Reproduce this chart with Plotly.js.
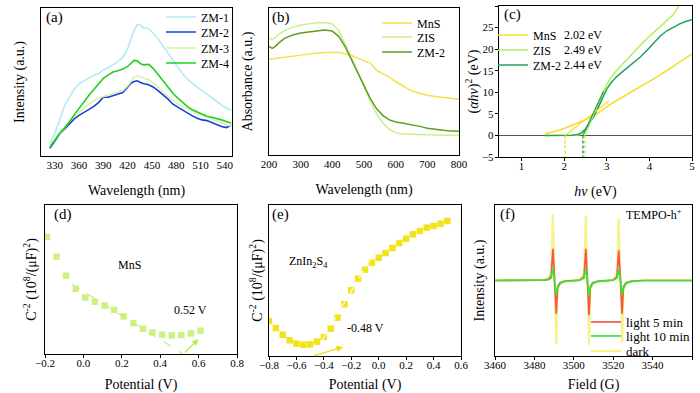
<!DOCTYPE html>
<html><head><meta charset="utf-8">
<script src="https://cdn.plot.ly/plotly-3.0.1.min.js"></script>
<style>html,body{margin:0;padding:0;background:#fff;}#chart{width:700px;height:393px;}</style>
</head><body><div id="chart"></div>
<script>
// ---------- (a) PL spectra ----------
const plWavelength = [324,330,336,342,348,354,360,366,372,378,384,390,396,402,408,414,420,424,428,432,436,440,446,452,458,464,470,476,482,488,494,500,506,512,518,524,530,536,542,548];
const plZM1 = [8.6,15.3,23.9,33.9,39.7,45.1,48.8,50.8,52.6,54.6,55.5,58.2,59.6,61.4,63.7,66.8,72.2,79.0,84.9,88.7,88.3,86.5,86.2,82.6,79.0,74.0,69.5,64.3,60.0,55.5,51.9,48.8,46.3,44.2,42.0,39.7,37.0,34.5,32.3,30.7];
const plZM2 = [5.2,10.4,14.9,18.1,21.7,25.1,27.5,29.3,31.2,33.4,36.1,39.7,39.7,40.6,41.5,42.9,46.5,49.2,50.3,50.8,49.7,48.8,48.1,46.5,44.0,41.3,38.4,35.0,33.0,30.7,28.9,27.1,25.5,24.4,23.9,22.6,21.2,19.9,19.2,20.8];
const plZM3 = [7.2,11.3,14.9,18.7,23.7,26.6,29.3,32.3,35.0,37.2,39.1,40.2,41.1,42.0,43.1,44.2,47.4,50.6,53.3,54.2,53.3,52.8,51.5,49.2,46.5,43.3,40.2,37.5,35.2,33.4,31.8,30.0,28.7,27.5,26.2,25.1,23.9,22.6,21.2,20.3];
const plZM4 = [5.9,10.8,15.3,19.0,23.0,27.8,32.3,36.3,40.9,44.7,48.8,52.4,54.6,56.7,57.6,58.7,60.5,62.3,64.6,64.3,62.3,61.6,61.9,58.9,54.6,50.3,46.5,42.4,39.1,36.1,33.4,31.2,29.8,28.2,26.9,26.2,25.5,24.4,23.3,22.3];
const plNames = ['ZM-1','ZM-2','ZM-3','ZM-4'];

// ---------- (b) UV-vis absorbance ----------
const absWavelength = [200,210,220,230,250,275,300,325,350,375,400,420,440,460,480,500,520,540,560,580,600,620,640,660,680,700,725,750,775,800];
const absMnS = [65.2,65.5,65.7,65.9,66.4,67.0,68.0,68.6,69.3,69.8,70.0,69.8,68.9,67.7,65.9,64.3,62.5,57.5,55.2,53.0,50.0,47.3,44.8,43.0,41.6,40.7,39.8,39.1,38.4,38.0];
const absZIS = [79.5,78.4,80.0,82.0,84.8,87.0,88.4,89.3,90.0,90.2,89.1,84.8,76.1,66.6,56.8,46.1,36.4,28.0,21.6,17.5,15.2,14.3,14.1,13.9,13.9,13.6,13.6,13.4,13.4,13.2];
const absZM2 = [73.9,72.5,73.9,76.1,79.5,81.6,83.0,83.6,84.5,85.0,84.3,80.7,73.9,65.2,56.1,47.0,38.4,31.4,26.8,23.9,22.5,21.8,21.1,20.2,19.3,18.2,17.3,16.8,16.4,16.1];
const absNames = ['MnS','ZIS','ZM-2'];

// ---------- (c) Tauc plot ----------
const tgEnergyMnS = [1.55,1.7,1.85,2.0,2.15,2.3,2.45,2.6,2.75,2.9,3.1,3.3,3.5,3.7,3.9,4.1,4.3,4.5,4.7,4.85,5.0];
const tgMnS = [0.4,0.7,1.1,1.6,2.2,2.9,3.5,4.1,4.9,6.0,7.3,8.5,9.6,10.7,11.9,13.1,14.3,15.6,16.9,17.9,18.9];
const tgEnergyZIS = [1.55,2.0,2.2,2.3,2.4,2.5,2.6,2.7,2.8,2.9,3.0,3.1,3.2,3.35,3.5,3.65,3.8,3.95,4.1,4.25,4.4,4.55,4.72];
const tgZIS = [0,0,0,0.05,0.3,1.2,2.8,4.7,7.0,9.5,11.8,13.4,14.7,16.3,17.9,19.6,21.0,22.5,23.8,25.1,26.4,27.9,30.4];
const tgEnergyZM2 = [1.55,2.0,2.2,2.3,2.4,2.5,2.6,2.7,2.8,2.9,3.0,3.1,3.2,3.35,3.5,3.65,3.8,3.95,4.1,4.25,4.4,4.55,4.7,4.85,5.0];
const tgZM2 = [0,0,0.05,0.2,0.6,1.5,2.9,4.5,6.5,8.7,10.8,12.2,13.3,14.6,15.8,17.0,18.3,19.8,21.5,23.0,24.2,25.1,25.8,26.4,26.8];
const bandGaps = [2.02,2.49,2.44];          // MnS, ZIS, ZM-2
const tangentEndX = [3.05,2.95,2.92];
const tangentEndY = [8.0,11.0,10.2];
const gapLabels = ['2.02 eV','2.49 eV','2.44 eV'];

// ---------- (d) Mott-Schottky MnS ----------
const msMnSPotential = [-0.19,-0.14,-0.09,-0.04,0.01,0.06,0.11,0.16,0.21,0.26,0.31,0.36,0.41,0.46,0.51,0.56,0.61];
const msMnS = [78.6,65.3,52.6,43.7,37.9,35.0,32.5,29.6,25.2,20.7,16.9,14.5,12.9,12.5,12.7,13.8,15.6];
const fbMnS = 0.52;
const msMnSTangentStart = [-0.06,46.8];
const msMnSArrowTip = [0.6,10];

// ---------- (e) Mott-Schottky ZnIn2S4 ----------
const msZISPotential = [-0.8,-0.75,-0.7,-0.65,-0.6,-0.55,-0.5,-0.45,-0.4,-0.35,-0.3,-0.25,-0.2,-0.15,-0.1,-0.05,0,0.05,0.1,0.15,0.2,0.25,0.3,0.35,0.4,0.45,0.5];
const msZIS = [23.2,18.5,14.1,10.4,8.2,7.5,7.7,9.5,12.6,18.1,25.4,34.2,43.5,51.2,57.2,61.8,65.1,68.2,71.5,74.8,77.7,80.6,82.8,85.0,86.1,87.6,89.4];
const fbZIS = -0.48;
const msZISTangentEnd = [-0.01,72];
const msZISArrowTip = [-0.26,6];

// ---------- (f) EPR TEMPO-h+ ----------
const eprField = [3460,3480,3485,3487,3488.5,3489.4,3490.3,3491.1,3491.8,3493,3495,3500,3503,3505.2,3506.1,3506.9,3507.7,3508.4,3509.6,3512,3517,3520,3521.9,3522.8,3523.7,3524.5,3525.2,3526.5,3529,3535,3560];
const eprDark = [0,0.005,0.01,0.03,0.12,0.88,0,-0.84,-0.12,-0.04,-0.01,0,0.01,0.1,0.86,0,-0.85,-0.12,-0.04,-0.01,0,0.01,0.1,0.82,0,-0.82,-0.12,-0.04,-0.01,0,0];
const eprLight5 = [0,0,0.005,0.015,0.06,0.42,0,-0.44,-0.08,-0.03,-0.01,0,0.005,0.05,0.42,0,-0.46,-0.08,-0.03,-0.01,0,0.005,0.05,0.40,0,-0.44,-0.08,-0.03,-0.01,0,0];
const eprLight10 = [0,0,0.005,0.01,0.03,0.16,0,-0.19,-0.1,-0.04,-0.015,0,0.003,0.03,0.16,0,-0.21,-0.1,-0.04,-0.015,0,0.003,0.03,0.15,0,-0.19,-0.1,-0.04,-0.015,0,0];

const F = "'Liberation Serif', serif";
const W = 700, H = 393;
const px = v => v / W, py = v => 1 - v / H;
const fnt = (size, extra) => Object.assign({family: F, size: size, color: '#000', weight: 'normal', style: 'normal'}, extra || {});

const traces = [];
let legendCount = 0;
const legends = {};
function addLegend(xPx, yPx, size) {
  legendCount++;
  const key = legendCount === 1 ? 'legend' : 'legend' + legendCount;
  legends[key] = {x: px(xPx), y: py(yPx), xanchor: 'left', yanchor: 'middle', bgcolor: 'rgba(0,0,0,0)',
    borderwidth: 0, font: fnt(size || 12)};
  return key;
}

// (a)
const plSeries = [plZM1, plZM2, plZM3, plZM4];
const plColors = ['#b3ebf5', '#1c3de0', '#d6f5a6', '#22cf22'];
const plLegY = [17, 32, 48, 63];
plSeries.forEach((s, i) => traces.push({x: plWavelength, y: s, type: 'scatter', mode: 'lines', name: plNames[i],
  line: {color: plColors[i], width: 1.6}, xaxis: 'x', yaxis: 'y', legend: addLegend(161, plLegY[i])}));

// (b)
const absSeries = [absMnS, absZIS, absZM2];
const absColors = ['#f2e14a', '#c9f28a', '#5e9e23'];
const absLegY = [23, 37, 52];
absSeries.forEach((s, i) => traces.push({x: absWavelength, y: s, type: 'scatter', mode: 'lines', name: absNames[i],
  line: {color: absColors[i], width: 1.5}, xaxis: 'x2', yaxis: 'y2', legend: addLegend(377, absLegY[i])}));

// (c)
const tgColors = ['#f5dc2a', '#b5ef5f', '#1ca35a'];
const tgX = [tgEnergyMnS, tgEnergyZIS, tgEnergyZM2];
const tgY = [tgMnS, tgZIS, tgZM2];
const tgLegY = [35, 50, 65];
tgY.forEach((s, i) => traces.push({x: tgX[i], y: s, type: 'scatter', mode: 'lines', name: absNames[i],
  line: {color: tgColors[i], width: 1.5}, xaxis: 'x3', yaxis: 'y3', legend: addLegend(493, tgLegY[i])}));
bandGaps.forEach((g, i) => {
  traces.push({x: [g, tangentEndX[i]], y: [0, tangentEndY[i]], type: 'scatter', mode: 'lines', showlegend: false,
    line: {color: tgColors[i], width: 1.2}, xaxis: 'x3', yaxis: 'y3', hoverinfo: 'skip'});
  traces.push({x: [g, g], y: [0, -5], type: 'scatter', mode: 'lines', showlegend: false,
    line: {color: tgColors[i], width: 1.4, dash: '3px,2px'}, xaxis: 'x3', yaxis: 'y3', hoverinfo: 'skip'});
});

// (d)
traces.push({x: msMnSPotential, y: msMnS, type: 'scatter', mode: 'markers', showlegend: false,
  marker: {symbol: 'square', size: 6.5, color: '#cdf283'}, xaxis: 'x4', yaxis: 'y4'});
traces.push({x: [msMnSTangentStart[0], fbMnS], y: [msMnSTangentStart[1], 0], type: 'scatter', mode: 'lines', showlegend: false,
  line: {color: '#c6ee78', width: 1.2, dash: 'dash'}, xaxis: 'x4', yaxis: 'y4', hoverinfo: 'skip'});

// (e)
traces.push({x: msZISPotential, y: msZIS, type: 'scatter', mode: 'markers', showlegend: false,
  marker: {symbol: 'square', size: 6.5, color: '#f2e31a'}, xaxis: 'x5', yaxis: 'y5'});
traces.push({x: [fbZIS, msZISTangentEnd[0]], y: [0, msZISTangentEnd[1]], type: 'scatter', mode: 'lines', showlegend: false,
  line: {color: '#fffbe0', width: 1.2, dash: 'dash'}, xaxis: 'x5', yaxis: 'y5', hoverinfo: 'skip'});

// (f)
traces.push({x: eprField, y: eprDark, type: 'scatter', mode: 'lines', name: 'dark',
  line: {color: '#f7f28c', width: 2.2}, xaxis: 'x6', yaxis: 'y6', legend: addLegend(586, 351, 13)});
traces.push({x: eprField, y: eprLight5, type: 'scatter', mode: 'lines', name: 'light 5 min',
  line: {color: '#f2584a', width: 1.7}, xaxis: 'x6', yaxis: 'y6', legend: addLegend(586, 322, 13)});
traces.push({x: eprField, y: eprLight10, type: 'scatter', mode: 'lines', name: 'light 10 min',
  line: {color: '#36e636', width: 1.7}, xaxis: 'x6', yaxis: 'y6', legend: addLegend(586, 336, 13)});

function axis(domain, range, titleText, standoff, extra) {
  return Object.assign({
    domain: domain, range: range, showline: true, mirror: true, linecolor: '#000', linewidth: 1.2,
    showgrid: false, zeroline: false, ticks: 'outside', ticklen: 3, tickwidth: 1, tickcolor: '#000',
    ticklabelstandoff: -4,
    tickfont: fnt(11),
    title: {text: titleText, standoff: standoff, font: fnt(14)}
  }, extra || {});
}
const noLabels = {showticklabels: false, ticks: ''};

const yTitleMS = 'C<sup>-2</sup> (10<sup>8</sup>/(μF)<sup>2</sup>)';

const layout = Object.assign({
  width: W, height: H, margin: {l: 0, r: 0, t: 0, b: 0}, paper_bgcolor: '#fff', plot_bgcolor: '#fff',
  font: fnt(12), showlegend: true,
  xaxis: axis([px(41), px(232)], [313, 549], 'Wavelength (nm)', 14, {anchor: 'y', tick0: 330, dtick: 30, ticks: '', ticklabelstandoff: -1}),
  yaxis: axis([py(156), py(8)], [0, 100], 'Intensity (a.u.)', 12, Object.assign({anchor: 'x'}, noLabels)),
  xaxis2: axis([px(269), px(459)], [200, 800], 'Wavelength (nm)', 14, {anchor: 'y2', dtick: 100, ticks: '', ticklabelstandoff: -1}),
  yaxis2: axis([py(155), py(8)], [0, 100], 'Absorbance (a.u.)', 12, Object.assign({anchor: 'x2'}, noLabels)),
  xaxis3: axis([px(499), px(692)], [0.47, 5], '<i>hν</i> (eV)', 14, {anchor: 'y3', tick0: 1, dtick: 1}),
  yaxis3: axis([py(157), py(6)], [-5, 30], '(<i>αhν</i>)<sup>2</sup> (eV)', 0, {anchor: 'x3', dtick: 5, zeroline: true, zerolinecolor: '#555', zerolinewidth: 1, ticklabelstandoff: -1}),
  xaxis4: axis([px(45), px(237)], [-0.2, 0.8], 'Potential (V)', 10, {anchor: 'y4', dtick: 0.2, tickformat: '.1f'}),
  yaxis4: axis([py(354), py(205)], [0, 100], yTitleMS, 4, Object.assign({anchor: 'x4'}, noLabels)),
  xaxis5: axis([px(269), px(461)], [-0.8, 0.6], 'Potential (V)', 10, {anchor: 'y5', dtick: 0.2, tickformat: '.1f'}),
  yaxis5: axis([py(356), py(205)], [0, 100], yTitleMS, 2, Object.assign({anchor: 'x5'}, noLabels)),
  xaxis6: axis([px(495), px(692)], [3460, 3560], 'Field (G)', 10, {anchor: 'y6', dtick: 20}),
  yaxis6: axis([py(356), py(205)], [-1, 1], 'Intensity (a.u.)', 6, Object.assign({anchor: 'x6'}, noLabels)),
  annotations: [
    {text: '(a)', x: px(44), y: py(18), xref: 'paper', yref: 'paper', xanchor: 'left', yanchor: 'middle', showarrow: false, font: fnt(15)},
    {text: '(b)', x: px(270), y: py(18), xref: 'paper', yref: 'paper', xanchor: 'left', yanchor: 'middle', showarrow: false, font: fnt(15)},
    {text: '(c)', x: px(502), y: py(15), xref: 'paper', yref: 'paper', xanchor: 'left', yanchor: 'middle', showarrow: false, font: fnt(15)},
    {text: '(d)', x: px(52), y: py(215), xref: 'paper', yref: 'paper', xanchor: 'left', yanchor: 'middle', showarrow: false, font: fnt(15)},
    {text: '(e)', x: px(270), y: py(215), xref: 'paper', yref: 'paper', xanchor: 'left', yanchor: 'middle', showarrow: false, font: fnt(15)},
    {text: '(f)', x: px(498), y: py(215), xref: 'paper', yref: 'paper', xanchor: 'left', yanchor: 'middle', showarrow: false, font: fnt(15)},
    {text: 'TEMPO-h<sup>+</sup>', x: px(684), y: py(214), xref: 'paper', yref: 'paper', xanchor: 'right', yanchor: 'middle', showarrow: false, font: fnt(12)},
    {text: 'MnS', x: 0.24, y: 59.7, xref: 'x4', yref: 'y4', showarrow: false, font: fnt(12)},
    {text: fbMnS.toFixed(2) + ' V', x: 0.56, y: 29.6, xref: 'x4', yref: 'y4', showarrow: false, font: fnt(12)},
    {text: '', x: msMnSArrowTip[0], y: msMnSArrowTip[1], ax: fbMnS, ay: 0, xref: 'x4', yref: 'y4', axref: 'x4', ayref: 'y4',
      showarrow: true, arrowhead: 2, arrowsize: 1, arrowwidth: 1.3, arrowcolor: '#b9ea5e'},
    {text: 'ZnIn<sub>2</sub>S<sub>4</sub>', x: -0.51, y: 62.3, xref: 'x5', yref: 'y5', showarrow: false, font: fnt(12)},
    {text: '-' + Math.abs(fbZIS).toFixed(2) + ' V', x: -0.1, y: 18.8, xref: 'x5', yref: 'y5', showarrow: false, font: fnt(12)},
    {text: '', x: msZISArrowTip[0], y: msZISArrowTip[1], ax: fbZIS, ay: 0, xref: 'x5', yref: 'y5', axref: 'x5', ayref: 'y5',
      showarrow: true, arrowhead: 2, arrowsize: 1, arrowwidth: 1.3, arrowcolor: '#eedc10'}
  ].concat(gapLabels.map((t, i) => ({text: t, x: px(562), y: py(tgLegY[i]), xref: 'paper', yref: 'paper',
      xanchor: 'left', yanchor: 'middle', showarrow: false, font: fnt(12)})))
}, legends);

Plotly.newPlot('chart', traces, layout, {displayModeBar: false, staticPlot: true});
</script></body></html>
